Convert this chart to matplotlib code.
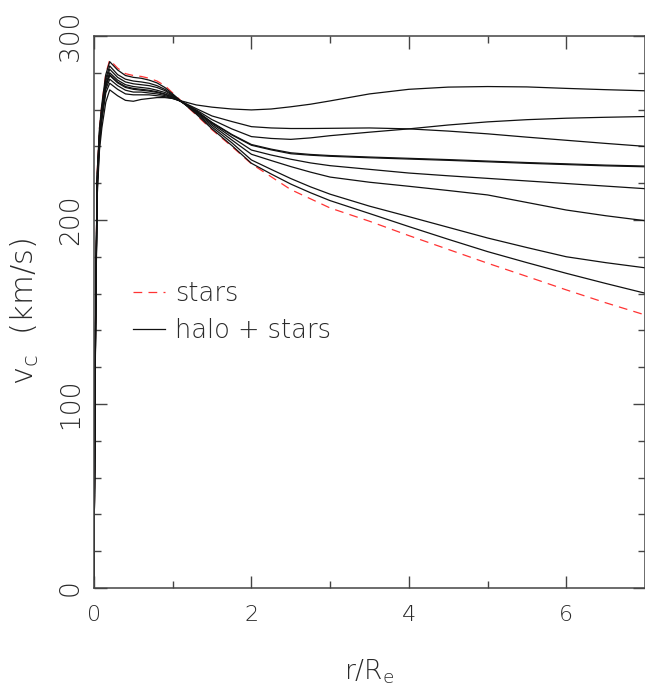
import matplotlib
matplotlib.use("Agg")
import matplotlib.pyplot as plt

# radius grid (r / R_e)
r = [0, 0.01, 0.02, 0.04, 0.07, 0.1, 0.15, 0.2, 0.3, 0.4, 0.5, 0.6, 0.7,
     0.8, 0.9, 1.0, 1.1, 1.3, 1.5, 1.75, 2.0, 2.25, 2.5, 2.75, 3.0, 3.5,
     4.0, 4.5, 5.0, 5.5, 6.0, 6.5, 7.0]

# stars only (red dashed)
v_stars = [5, 80, 145, 225, 250, 263, 279.5, 287, 282.5, 279.5, 278.5, 278,
           277, 275.5, 273, 269, 265, 257, 249, 240, 230.5, 223.5, 216.5,
           211.5, 206.5, 199.3, 191.5, 184, 176.5, 169.3, 162, 155, 148.4]

# halo + stars models (black)
v_halo = [
    [5, 78, 138, 212, 238, 250, 264, 270.7, 267.5, 265, 264.5, 265.5, 266,
     266.5, 266.5, 266, 264.8, 262.5, 261.3, 260.3, 259.8, 260.3, 261.5,
     262.9, 264.7, 268.5, 271, 272.2, 272.5, 272.3, 271.5, 270.8, 270.2],
    [5, 78, 140, 215, 241, 254, 269, 274.3, 271, 268.5, 268, 268, 268,
     267.5, 267, 266, 264.6, 260.5, 256.5, 253.5, 250.7, 250, 249.7, 249.7,
     249.8, 250, 249.5, 248.3, 246.8, 245, 243.3, 241.6, 240],
    [5, 79, 141, 217, 243, 256, 271, 276.5, 273, 270.5, 269.5, 269.5, 269,
     268.5, 267.6, 266.3, 264.5, 259.8, 254.5, 249.5, 245.3, 244.3, 243.8,
     244.6, 245.8, 247.7, 249.5, 251.6, 253.3, 254.5, 255.3, 255.8, 256.2],
    [5, 79, 142, 219, 245, 258, 273, 279, 275, 272.5, 271.5, 271, 270.5,
     269.7, 268.5, 266.8, 264.5, 259.3, 253, 246.5, 241, 238.5, 236.5,
     235.6, 235, 234.2, 233.5, 232.8, 232, 231.2, 230.5, 229.8, 229.3],
    [5, 79, 142, 219, 245, 258, 272.5, 278.5, 274.5, 272, 271, 270.5, 270,
     269.3, 268.2, 266.6, 264.5, 259.2, 252.8, 246.2, 240.6, 238.1, 236,
     235.2, 234.6, 233.8, 233.1, 232.4, 231.6, 230.8, 230.1, 229.4, 228.9],
    [5, 79, 143, 220, 246, 259, 274, 280, 276, 273.5, 272.5, 272, 271.5,
     270.5, 269.3, 267.2, 264.5, 259, 252.3, 245, 238, 235.3, 233, 231,
     229.5, 227.5, 225.5, 224, 222.6, 221.2, 219.8, 218.4, 217],
    [5, 80, 144, 222, 247, 260, 275.5, 281.9, 277.5, 275, 274, 273.5, 273,
     272, 270.3, 267.6, 264.6, 258.5, 251.5, 243.5, 235.7, 232.3, 229, 226,
     223.3, 220.5, 218.3, 216, 213.6, 209.5, 205.4, 202.3, 199.6],
    [5, 80, 144, 223, 248, 261, 277, 283.7, 279, 276.5, 275.5, 275, 274.3,
     273, 271, 268, 264.7, 258, 250.5, 242, 232.6, 227.5, 222.5, 218, 214,
     207.5, 201.8, 196, 190.2, 185, 180, 176.8, 174],
    [5, 80, 145, 225, 250, 263, 279, 286, 281.5, 278.5, 277.5, 277, 276,
     274.5, 272, 268.5, 264.8, 257.5, 249.5, 240.5, 230.8, 225, 219.5,
     214.8, 210.5, 203.5, 196.4, 189.5, 182.8, 176.8, 171, 165.5, 160.2],
]

x_ticks = [0, 2, 4, 6]
y_ticks = [0, 100, 200, 300]

plt.rcParams['font.family'] = ['DejaVu Sans']
plt.rcParams['font.weight'] = 'light'
plt.rcParams['mathtext.fontset'] = 'custom'
plt.rcParams['mathtext.rm'] = 'DejaVu Sans:light'
plt.rcParams['mathtext.it'] = 'DejaVu Sans:light'
plt.rcParams['mathtext.default'] = 'rm'

txt = '#2a2a2a'

fig = plt.figure(figsize=(6.45, 6.86), dpi=100)
ax = fig.add_axes([0.1457, 0.1429, 0.8543, 0.8047])

for i, v in enumerate(v_halo):
    ax.plot(r, v, color='#111111', lw=0.9,
            label='halo + stars' if i == 0 else None, zorder=2)
ax.plot(r, v_stars, color='#ff3333', lw=0.9, dashes=(7, 5),
        label='stars', zorder=1)

ax.set_xlim(0, 7)
ax.set_ylim(0, 300)
ax.set_xticks(x_ticks)
ax.set_yticks(y_ticks)
ax.set_xticks([1, 3, 5], minor=True)
ax.set_yticks([v for v in range(20, 300, 20) if v % 100], minor=True)
ax.tick_params(which='both', direction='in', top=True, right=True,
               colors='#444444', labelcolor=txt)
ax.tick_params(which='major', length=9, width=1)
ax.tick_params(which='minor', length=5, width=1)
ax.tick_params(axis='x', pad=12, labelsize=16)
ax.tick_params(axis='y', pad=8, labelsize=19)
for lab in ax.get_yticklabels():
    lab.set_rotation(90)
    lab.set_va('center')
for sp in ax.spines.values():
    sp.set_color('#444444')
    sp.set_linewidth(1.1)

ax.set_xlabel(r'$\mathrm{r/R_e}$', fontsize=19, color=txt, labelpad=24)
ax.set_ylabel(r'$\mathrm{v_c\ \ (km/s)}$', fontsize=22, color=txt,
              labelpad=12)

handles, labels = ax.get_legend_handles_labels()
order = [labels.index('stars'), labels.index('halo + stars')]
ax.legend([handles[k] for k in order], [labels[k] for k in order],
          loc='upper left', bbox_to_anchor=(0.071, 0.556), frameon=False,
          fontsize=18.5, handlelength=1.25, handletextpad=0.39,
          labelspacing=0.48, borderpad=0, borderaxespad=0, labelcolor=txt)

fig.savefig('out.png', dpi=100)
